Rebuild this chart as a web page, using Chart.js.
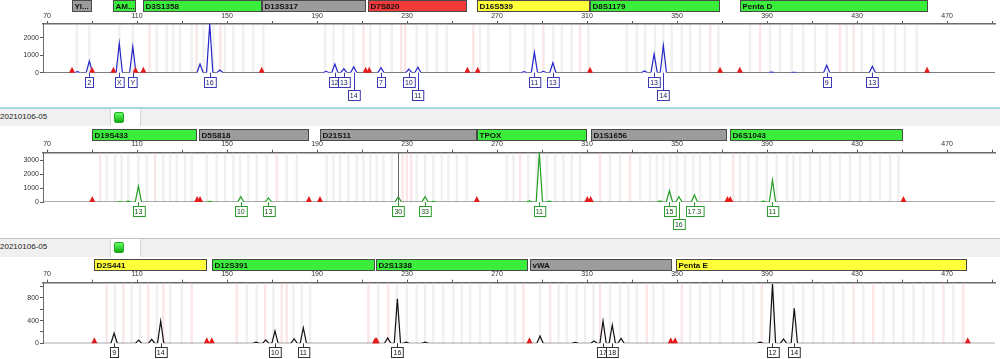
<!DOCTYPE html>
<html><head><meta charset="utf-8">
<script src="https://cdn.jsdelivr.net/npm/chart.js@4/dist/chart.umd.min.js"></script>
<style>
body{margin:0;background:#fff;width:1000px;height:359px;overflow:hidden;position:relative;font-family:"Liberation Sans",Arial,sans-serif}
canvas{position:absolute;left:0}
.line{position:absolute;left:0;width:1000px}
.band{position:absolute;left:0;width:1000px;background:#f0f0f0}
.sname{position:absolute;left:0;font-size:8px;color:#222;line-height:10px}
.icoBox{position:absolute;left:110px;width:29px;background:#fff;border-left:1px solid #d6d6d6;border-right:1px solid #d6d6d6}
.ico{position:absolute;left:3px;top:3px;width:8px;height:9px;background:linear-gradient(#6f6,#1a1);border:1px solid #2a2;border-radius:2px}
</style></head>
<body>
<div class="line" style="top:107px;height:2px;background:#a6d6de"></div>
<div class="band" style="top:109px;height:17px"></div>
<div class="sname" style="top:112px">20210106-05</div>
<div class="icoBox" style="top:109px;height:17px"><div class="ico"></div></div>
<div class="line" style="top:238px;height:1px;background:#c4c4c4"></div>
<div class="band" style="top:239px;height:18px"></div>
<div class="sname" style="top:242px">20210106-05</div>
<div class="icoBox" style="top:239px;height:18px"><div class="ico"></div></div>
<script>
// ---------------- shared axis data ----------------
const X_MIN = 68.2, X_MAX = 491.3;
const X_TICKS = [70,90,110,130,150,170,190,210,230,250,270,290,310,330,350,370,390,410,430,450,470,490];
const X_LABELED = [70,110,150,190,230,270,310,350,390,430,470];

// ---------------- panel 1 (blue) ----------------
const blueLoci = ['YI...','AM...','D3S1358','D13S317','D7S820','D16S539','D8S1179','Penta D'];
const blueLociStart = [81.1, 99.3, 112.7, 165.6, 212.7, 261.1, 311.3, 378.0];
const blueLociEnd   = [90.0, 109.6, 165.6, 211.8, 256.7, 311.3, 369.1, 461.6];
const blueLociColor = ['gray','green','green','gray','red','yellow','green','green'];
const bluePeakBp  = [83.5, 88.8, 102.1, 108.1, 138.0, 142.3, 146.8, 194.0, 197.9, 201.9, 206.3, 218.4, 230.8, 234.8, 282.0, 286.6, 290.6, 294.8, 335.5, 339.8, 343.9, 392.0, 402.0, 416.5, 436.8];
const bluePeakRfu = [60, 670, 1690, 1500, 500, 2800, 150, 80, 500, 230, 345, 290, 200, 310, 60, 1170, 80, 575, 100, 1075, 1570, 30, 20, 425, 370];
const blueAlleleBp   = [88.8, 102.1, 108.1, 142.3, 197.9, 201.9, 206.3, 218.4, 230.8, 234.8, 286.6, 294.8, 339.8, 343.9, 416.5, 436.8];
const blueAlleleText = ['2','X','Y','16','12','13','14','7','10','11','11','13','13','14','9','13'];
const blueAlleleRow  = [0,0,0,0,0,0,1,0,0,1,0,0,0,1,0,0];
const blueOffScale = [81.1, 90.0, 99.5, 109.3, 112.8, 165.4, 211.6, 213.2, 256.8, 261.4, 311.3, 369.1, 377.9, 461.1];
const blueBinGray = [83.2, 88.8, 102.1, 108.1, 118.7, 123.2, 126.1, 129.1, 134.3, 139.5, 143.9, 149.1, 152.8, 157.2, 161.7, 166.1, 193.6, 197.3, 201.7, 206.1, 213.6, 218.0, 223.2, 234.3, 238.8, 243.2, 247.6, 262.4, 266.1, 275.8, 282.4, 286.1, 295.0, 298.8, 303.2, 310.6, 327.6, 332.1, 335.8, 340.2, 343.9, 347.6, 352.1, 355.8, 360.2, 368.4, 382.4, 391.3, 395.8, 401.0, 406.1, 411.3, 416.5, 425.4, 432.1, 437.2, 441.7, 446.9, 451.3, 456.5];
const blueBinPink = [115.5, 136.5, 147.0, 210.6, 227.4, 229.2, 259.5, 290.6, 306.9, 364.7, 386.9, 422.4, 428.4];
const blueTicksY = [0,500,1000,1500,2000,2500];
const blueLabelsY = [0,1000,2000];

// ---------------- panel 2 (green) ----------------
const greenLoci = ['D19S433','D5S818','D21S11','TPOX','D1S1656','D6S1043'];
const greenLociStart = [89.9, 137.7, 191.3, 261.0, 311.6, 373.6];
const greenLociEnd   = [136.5, 186.4, 261.0, 310.1, 372.1, 450.6];
const greenLociColor = ['green','gray','gray','green','gray','green'];
const greenPeakBp  = [102.4, 106.1, 110.6, 142.4, 156.1, 168.4, 226.1, 238.0, 241.7, 284.4, 288.8, 293.2, 342.4, 346.6, 350.8, 357.7, 388.4, 392.4];
const greenPeakRfu = [30, 60, 1150, 40, 380, 290, 380, 380, 50, 80, 3550, 60, 80, 810, 380, 500, 60, 1580];
const greenAlleleBp   = [110.6, 156.1, 168.4, 226.1, 238.0, 288.8, 346.6, 350.8, 357.7, 392.4];
const greenAlleleText = ['13','10','13','30','33','11','15','16','17.3','11'];
const greenAlleleRow  = [0,0,0,0,0,0,0,1,0,0];
const greenOffScale = [90.1, 136.7, 138.0, 186.4, 191.3, 261.0, 310.1, 311.6, 372.4, 373.6, 450.6];
const greenMarkers = [226.1];
const greenBinGray = [96.5, 100.2, 103.2, 106.1, 110.6, 114.3, 121.7, 124.7, 127.6, 131.3, 134.3, 141.0, 145.4, 149.1, 152.8, 155.8, 159.5, 163.2, 167.6, 176.5, 181.0, 194.3, 197.3, 200.2, 203.9, 207.6, 210.6, 213.6, 216.5, 219.5, 223.2, 234.3, 238.0, 241.7, 245.4, 248.4, 252.1, 256.5, 274.3, 277.3, 283.9, 287.6, 292.1, 295.8, 299.5, 303.2, 306.9, 320.2, 324.7, 333.6, 338.0, 341.0, 343.9, 346.9, 349.9, 353.6, 357.2, 360.2, 364.7, 369.1, 378.0, 381.7, 385.4, 389.9, 394.3, 398.8, 401.7, 404.7, 409.1, 413.6, 418.0, 422.4, 426.9, 431.3, 435.8, 440.2, 444.7, 448.4];
const greenBinPink = [93.6, 118.0, 172.1, 228.0, 229.9, 231.8, 280.2, 315.8, 329.1, 375.0];
const greenTicksY = [0,500,1000,1500,2000,2500,3000,3500];
const greenLabelsY = [0,1000,2000,3000];

// ---------------- panel 3 (black) ----------------
const blackLoci = ['D2S441','D12S391','D2S1338','vWA','Penta E'];
const blackLociStart = [90.9, 143.2, 216.1, 284.7, 349.6];
const blackLociEnd   = [141.2, 215.6, 283.8, 347.6, 479.0];
const blackLociColor = ['yellow','green','green','gray','yellow'];
const blackPeakBp  = [99.8, 110.7, 116.5, 120.5, 162.9, 167.2, 171.3, 179.8, 183.9, 221.4, 225.7, 229.6, 238.0, 289.1, 304.7, 313.1, 317.1, 321.2, 325.1, 386.9, 392.4, 397.3, 402.1];
const blackPeakRfu = [177, 58, 70, 395, 20, 60, 218, 80, 276, 94, 785, 20, 20, 130, 15, 40, 395, 324, 88, 20, 1045, 76, 620];
const blackAlleleBp   = [99.8, 120.5, 171.3, 183.9, 225.7, 317.1, 321.2, 392.4, 402.1];
const blackAlleleText = ['9','14','10','11','16','17','18','12','14'];
const blackAlleleRow  = [0,0,0,0,0,0,0,0,0];
const blackOffScale = [91.0, 141.0, 143.2, 215.8, 216.5, 284.4, 347.2, 349.1, 479.2];
const blackBinGray = [100.2, 107.6, 111.3, 118.8, 124.7, 129.9, 158.8, 163.2, 170.6, 179.5, 183.2, 186.9, 217.2, 225.4, 229.9, 234.3, 238.0, 241.7, 246.1, 250.6, 254.3, 258.0, 262.4, 266.9, 274.3, 278.0, 289.1, 297.3, 301.0, 305.4, 309.1, 312.8, 320.2, 324.7, 328.4, 332.1, 339.5, 343.9, 355.8, 360.2, 364.7, 369.1, 375.0, 379.5, 383.9, 392.8, 397.3, 401.7, 406.1, 410.6, 415.0, 419.5, 423.9, 432.8, 441.7, 446.2, 450.6, 455.1, 459.5, 463.9, 472.8];
const blackBinPink = [96.5, 103.9, 115.0, 121.7, 134.3, 154.3, 166.9, 174.3, 176.5, 212.8, 221.7, 281.7, 293.6, 315.8, 336.5, 352.1, 387.6, 428.4, 437.2, 468.4, 477.2];
const blackTicksY = [0,200,400,600,800,1000];
const blackLabelsY = [0,400,800];

// ---------------- rendering ----------------
const FONT = '"Liberation Sans", Arial, sans-serif';
const LOCUS_FILL = {green:'#3bee3b', gray:'#9c9c9c', red:'#f23a3a', yellow:'#ffff3a'};
const PEAK_HALF = 1.4;

function tracePoints(bp, rfu) {
  const pts = [{x: X_MIN, y: 0}];
  bp.forEach((b, i) => { pts.push({x: b - PEAK_HALF, y: 0}, {x: b, y: rfu[i]}, {x: b + PEAK_HALF, y: 0}); });
  pts.push({x: X_MAX, y: 0});
  return pts;
}

const ladderPlugin = {
  id: 'ladder',
  beforeDatasetsDraw(chart) {
    const P = chart.options.plugins.ladder, ctx = chart.ctx, xs = chart.scales.x, a = chart.chartArea;
    ctx.save();
    const drawBins = (list, col) => {
      ctx.fillStyle = col;
      list.forEach(b => { const x = xs.getPixelForValue(b); ctx.fillRect(x - 1.2, a.top + 1, 2.4, a.bottom - a.top - 1); });
    };
    drawBins(P.binGray, '#f0f0f0');
    drawBins(P.binPink, '#fae6e6');
    ctx.restore();
  },
  afterDatasetsDraw(chart) {
    const P = chart.options.plugins.ladder, ctx = chart.ctx, xs = chart.scales.x, ys = chart.scales.y, a = chart.chartArea;
    const base = ys.getPixelForValue(0);
    ctx.save();
    ctx.strokeStyle = '#6a6a6a'; ctx.lineWidth = 1;
    (P.markers || []).forEach(b => { const x = Math.round(xs.getPixelForValue(b)) + 0.5; ctx.beginPath(); ctx.moveTo(x, a.top); ctx.lineTo(x, base); ctx.stroke(); });
    ctx.fillStyle = '#e51b1b';
    P.offScale.forEach(b => { const x = xs.getPixelForValue(b); ctx.beginPath(); ctx.moveTo(x, base - 6); ctx.lineTo(x - 3, base); ctx.lineTo(x + 3, base); ctx.closePath(); ctx.fill(); });
    ctx.font = '7px ' + FONT; ctx.textAlign = 'center'; ctx.textBaseline = 'middle';
    ctx.lineWidth = 1;
    P.alleleBp.forEach((b, i) => {
      const x = xs.getPixelForValue(b), t = P.alleleText[i], row = P.alleleRow[i];
      const w = Math.max(ctx.measureText(t).width + 4, 8), h = 10;
      const top = Math.round(base + 4 + row * 13) + 0.5;
      ctx.strokeStyle = P.labelColor;
      ctx.beginPath(); ctx.moveTo(Math.round(x) + 0.5, base); ctx.lineTo(Math.round(x) + 0.5, top); ctx.stroke();
      const lx = Math.round(x - w / 2) + 0.5;
      ctx.fillStyle = '#fff'; ctx.fillRect(lx, top, w, h);
      ctx.strokeRect(lx, top, w, h);
      ctx.fillStyle = P.textColor; ctx.fillText(t, x, top + h / 2 + 0.5);
    });
    ctx.restore();
  },
  afterDraw(chart) {
    const P = chart.options.plugins.ladder, ctx = chart.ctx, xs = chart.scales.x, a = chart.chartArea;
    ctx.save();
    const y = Math.round(a.top - 24) + 0.5, h = 11;
    ctx.font = 'bold 8px ' + FONT; ctx.textBaseline = 'middle'; ctx.textAlign = 'left';
    P.loci.forEach((name, i) => {
      const x0 = Math.round(xs.getPixelForValue(P.lociStart[i])) + 0.5, x1 = Math.round(xs.getPixelForValue(P.lociEnd[i])) + 0.5;
      ctx.fillStyle = LOCUS_FILL[P.lociColor[i]]; ctx.fillRect(x0, y, x1 - x0 - 1, h);
      ctx.strokeStyle = '#4a4a4a'; ctx.lineWidth = 1; ctx.strokeRect(x0, y, x1 - x0 - 1, h);
      ctx.save(); ctx.beginPath(); ctx.rect(x0, y, x1 - x0 - 1, h); ctx.clip();
      ctx.fillStyle = '#111'; ctx.fillText(name, x0 + 2, y + h / 2 + 0.5);
      ctx.restore();
    });
    ctx.restore();
  }
};

function makePanel(o) {
  const c = document.createElement('canvas');
  c.width = 1000; c.height = o.height; c.style.top = o.top + 'px';
  document.body.appendChild(c);
  new Chart(c, {
    type: 'line',
    data: { datasets: [{
      data: tracePoints(o.peakBp, o.peakRfu),
      borderColor: o.color, borderWidth: 1.2, pointRadius: 0, tension: 0, fill: false,
      segment: { borderColor: s => (s.p0.parsed.y === 0 && s.p1.parsed.y === 0) ? '#555555' : o.color }
    }]},
    options: {
      responsive: false, animation: false, devicePixelRatio: 1,
      layout: { padding: { top: o.chartTop - 12, bottom: o.height - o.chartBottom, left: 0, right: 5 } },
      plugins: {
        legend: { display: false }, tooltip: { enabled: false },
        ladder: {
          loci: o.loci, lociStart: o.lociStart, lociEnd: o.lociEnd, lociColor: o.lociColor,
          alleleBp: o.alleleBp, alleleText: o.alleleText, alleleRow: o.alleleRow,
          offScale: o.offScale, markers: o.markers, binGray: o.binGray, binPink: o.binPink,
          labelColor: o.labelColor, textColor: o.textColor
        }
      },
      scales: {
        x: {
          type: 'linear', position: 'top', min: X_MIN, max: X_MAX,
          afterBuildTicks: s => { s.ticks = X_TICKS.map(v => ({value: v})); },
          afterFit: s => { s.height = 12; },
          ticks: { autoSkip: false, maxRotation: 0, padding: 1, color: '#333', font: { size: 7, family: FONT },
                   callback: v => X_LABELED.includes(v) ? String(v) : '' },
          grid: { drawOnChartArea: false, tickLength: 3, color: '#555' },
          border: { color: '#6a6a6a', width: 1.5 }
        },
        y: {
          type: 'linear', min: 0, max: o.yMax,
          afterBuildTicks: s => { s.ticks = o.yTicks.map(v => ({value: v})); },
          afterFit: s => { s.width = 43; },
          ticks: { padding: 1, color: '#333', font: { size: 7, family: FONT },
                   callback: v => o.yLabels.includes(v) ? String(v) : '' },
          grid: { drawOnChartArea: false, tickLength: 3, color: '#555' },
          border: { color: '#6a6a6a', width: 1 }
        }
      }
    },
    plugins: [ladderPlugin]
  });
}

makePanel({ top: 0, height: 106, chartTop: 24, chartBottom: 72.7, yMax: 2800, yTicks: blueTicksY, yLabels: blueLabelsY,
  color: '#2424c8', labelColor: '#3a3ab0', textColor: '#1a1a60',
  loci: blueLoci, lociStart: blueLociStart, lociEnd: blueLociEnd, lociColor: blueLociColor,
  peakBp: bluePeakBp, peakRfu: bluePeakRfu, alleleBp: blueAlleleBp, alleleText: blueAlleleText, alleleRow: blueAlleleRow,
  offScale: blueOffScale, markers: [], binGray: blueBinGray, binPink: blueBinPink });

makePanel({ top: 126, height: 110, chartTop: 26.7, chartBottom: 76, yMax: 3550, yTicks: greenTicksY, yLabels: greenLabelsY,
  color: '#22a022', labelColor: '#2e9a2e', textColor: '#145014',
  loci: greenLoci, lociStart: greenLociStart, lociEnd: greenLociEnd, lociColor: greenLociColor,
  peakBp: greenPeakBp, peakRfu: greenPeakRfu, alleleBp: greenAlleleBp, alleleText: greenAlleleText, alleleRow: greenAlleleRow,
  offScale: greenOffScale, markers: greenMarkers, binGray: greenBinGray, binPink: greenBinPink });

makePanel({ top: 256, height: 103, chartTop: 26.7, chartBottom: 87.3, yMax: 1070, yTicks: blackTicksY, yLabels: blackLabelsY,
  color: '#111111', labelColor: '#333333', textColor: '#111111',
  loci: blackLoci, lociStart: blackLociStart, lociEnd: blackLociEnd, lociColor: blackLociColor,
  peakBp: blackPeakBp, peakRfu: blackPeakRfu, alleleBp: blackAlleleBp, alleleText: blackAlleleText, alleleRow: blackAlleleRow,
  offScale: blackOffScale, markers: [], binGray: blackBinGray, binPink: blackBinPink });
</script>
</body></html>
